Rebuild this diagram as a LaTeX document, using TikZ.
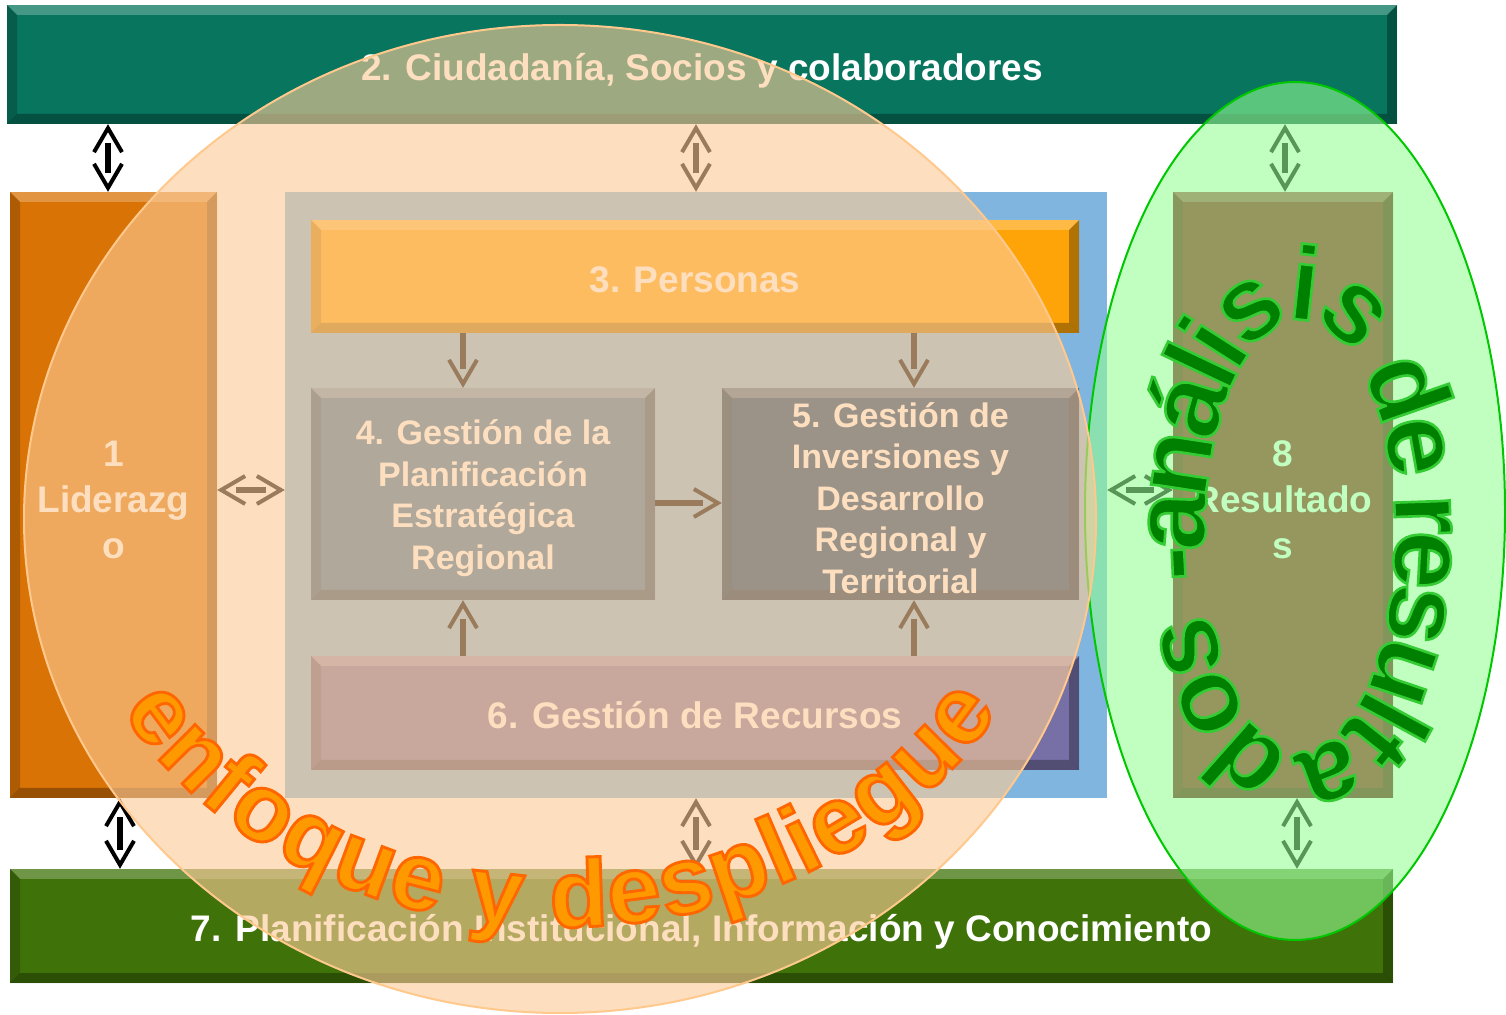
\documentclass[tikz,border=0pt]{standalone}
\usepackage{fontspec}
\setmainfont{Liberation Sans}
\usetikzlibrary{arrows.meta,decorations.markings,decorations.text}

\definecolor{cteal}{RGB}{8,117,94}
\definecolor{corg}{RGB}{217,115,6}
\definecolor{cblue}{RGB}{127,181,223}
\definecolor{cpers}{RGB}{254,164,8}
\definecolor{cplan}{RGB}{56,113,162}
\definecolor{cinv}{RGB}{3,59,113}
\definecolor{crec}{RGB}{118,112,166}
\definecolor{cres}{RGB}{153,4,21}
\definecolor{cgreen}{RGB}{64,114,10}
\definecolor{ofill}{RGB}{253,204,152}
\definecolor{oline}{RGB}{255,200,140}
\definecolor{gfill}{RGB}{148,255,148}
\definecolor{gline}{RGB}{0,200,0}
\definecolor{otext}{RGB}{255,153,0}
\definecolor{gtext}{RGB}{0,128,0}

\font\enffont="Liberation Sans/B:embolden=3" at 96pt
\font\anafont="Liberation Sans/B:embolden=2.5" at 105pt

\tikzset{
  bevel/.style={path picture={
    \fill[white,opacity=.25] (path picture bounding box.north west) -- (path picture bounding box.north east)
      -- ([shift={(-10,-10)}]path picture bounding box.north east) -- ([shift={(10,-10)}]path picture bounding box.north west) -- cycle;
    \fill[black,opacity=.3] (path picture bounding box.south west) -- (path picture bounding box.south east)
      -- ([shift={(-10,10)}]path picture bounding box.south east) -- ([shift={(10,10)}]path picture bounding box.south west) -- cycle;
    \fill[black,opacity=.3] (path picture bounding box.north east) -- (path picture bounding box.south east)
      -- ([shift={(-10,10)}]path picture bounding box.south east) -- ([shift={(-10,-10)}]path picture bounding box.north east) -- cycle;
    \fill[black,opacity=.2] (path picture bounding box.north west) -- (path picture bounding box.south west)
      -- ([shift={(10,10)}]path picture bounding box.south west) -- ([shift={(10,-10)}]path picture bounding box.north west) -- cycle;
  }},
  txt/.style={inner sep=0pt, text=white, align=center, font=\fontsize{37}{46}\selectfont\bfseries},
  tile/.style={fill=#1, bevel, txt},
  oneline/.style={text height=31.5pt, text depth=0pt},
  small/.style={font=\fontsize{34}{41.5}\selectfont\bfseries},
  twoway/.style={line width=6pt, shorten <=19pt, shorten >=19pt,
    postaction={decorate, decoration={markings,
      mark=at position 0 with {\arrowreversed{Straight Barb[length=24pt,width=28pt,line width=4pt]}},
      mark=at position 1 with {\arrow{Straight Barb[length=24pt,width=28pt,line width=4pt]}}}}},
  oneway/.style={line width=6pt, shorten >=19pt,
    postaction={decorate, decoration={markings,
      mark=at position 1 with {\arrow{Straight Barb[length=24pt,width=28pt,line width=4pt]}}}}}
}

\begin{document}
\begin{tikzpicture}[x=1pt,y=1pt]
  \useasboundingbox (0,0) rectangle (1506,1014);
  \fill[white] (0,0) rectangle (1506,1014);

  % bands and boxes
  \node[tile=cteal, oneline, minimum width=1390pt, minimum height=119pt] (c2) at (702,949.5) {2. Ciudadanía, Socios y colaboradores};
  \node[tile=corg, minimum width=207pt, minimum height=606pt,
    label={[name=l1t, txt, yshift=-5pt]center:1\\Liderazg\\o}] (l1) at (113.5,519) {};
  \node[fill=cblue, minimum width=822pt, minimum height=606pt, inner sep=0pt] (fr) at (696,519) {};
  \node[tile=cpers, oneline, minimum width=768pt, minimum height=113pt] (p3) at (695,737.5) {3. Personas};
  \node[tile=cplan, minimum width=344pt, minimum height=212pt,
    label={[name=g4t, txt, small, yshift=-4pt]center:4. Gestión de la\\Planificación\\Estratégica\\Regional}] (g4) at (483,520) {};
  \node[tile=cinv, minimum width=357pt, minimum height=212pt,
    label={[name=g5t, txt, small, yshift=-4pt]center:5. Gestión de\\Inversiones y\\Desarrollo\\Regional y\\Territorial}] (g5) at (900.5,520) {};
  \node[tile=crec, oneline, minimum width=768pt, minimum height=114pt] (r6) at (695,301) {6. Gestión de Recursos};
  \node[tile=cres, minimum width=220pt, minimum height=606pt,
    label={[name=r8t, txt, yshift=-5pt]center:8\\Resultado\\s}] (r8) at (1283,519) {};
  \node[tile=cgreen, oneline, minimum width=1383pt, minimum height=114pt] (p7) at (701.5,88) {7. Planificación Institucional, Información y Conocimiento};

  % arrows
  \draw[twoway] ([xshift=-5.5pt]l1.north) -- ([xshift=-5.5pt]l1.north |- c2.south);
  \draw[twoway] ([xshift=6.5pt]l1.south) -- ([xshift=6.5pt]l1.south |- p7.north);
  \draw[twoway] (fr.north) -- (fr.north |- c2.south);
  \draw[twoway] (fr.south) -- (fr.south |- p7.north);
  \draw[twoway] ([xshift=2pt]r8.north) -- ([xshift=2pt]r8.north |- c2.south);
  \draw[twoway] ([xshift=14pt]r8.south) -- ([xshift=14pt]r8.south |- p7.north);
  \draw[twoway] ([yshift=5pt]l1.east) -- ([yshift=5pt]l1.east -| fr.west);
  \draw[twoway] ([yshift=5pt]fr.east) -- ([yshift=5pt]fr.east -| r8.west);
  \draw[oneway] ([xshift=-20pt]g4.north |- p3.south) -- ([xshift=-20pt]g4.north);
  \draw[oneway] ([xshift=13.5pt]g5.north |- p3.south) -- ([xshift=13.5pt]g5.north);
  \draw[oneway] ([yshift=-9pt]g4.east) -- ([yshift=-9pt]g4.east -| g5.west);
  \draw[oneway] ([xshift=-20pt]g4.south |- r6.north) -- ([xshift=-20pt]g4.south);
  \draw[oneway] ([xshift=13.5pt]g5.south |- r6.north) -- ([xshift=13.5pt]g5.south);

  % overlays
  \draw[draw=gline, line width=2pt, fill=gfill, fill opacity=.59] (1295,503) ellipse[x radius=210, y radius=429];
  \draw[draw=oline, line width=2pt, fill=ofill, fill opacity=.61] (560,495) ellipse[x radius=536, y radius=494];

  % curved texts
  \path[decorate, decoration={text along path, text align={fit to path},
      text={|\enffont\color{otext}\special{pdf:literal direct 1 0.4 0 RG}|enfoque y despliegue}}]
    (560,495) ++(208:496 and 408) arc[start angle=208, end angle=332, x radius=496, y radius=408];
  \path[decorate, decoration={text along path,
      text={|\anafont\color{gtext}\special{pdf:literal direct 0.2 0.8 0.2 RG}\kern-7pt|-análisis de resultados}}]
    (1300,479) ++(190:95 and 215) arc[start angle=190, end angle=-170, x radius=95, y radius=215];
\end{tikzpicture}
\end{document}
